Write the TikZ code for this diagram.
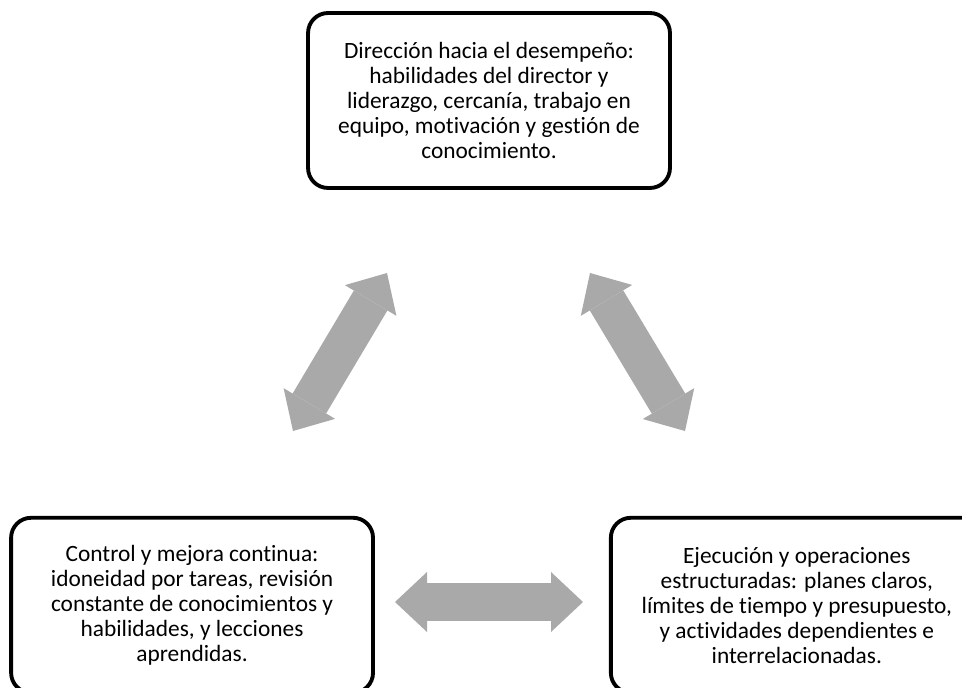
\documentclass[tikz,border=0pt]{standalone}
\usepackage{fontspec}
\setmainfont{Carlito}[Ligatures=NoCommon]
\usepackage{tikz}
\usetikzlibrary{positioning,arrows.meta}

\definecolor{arrowgray}{RGB}{169,169,169}

\tikzset{
  box/.style={draw, rectangle, rounded corners=0.4cm, line width=2.2pt,
    minimum width=7.24cm, minimum height=3.5cm, align=center,
    font=\fontsize{13.3}{14.2}\selectfont},
  bigarrow/.style={color=arrowgray, line width=0.78cm,
    {Triangle[length=0.64cm,width=1.2cm,line width=0pt]}-{Triangle[length=0.64cm,width=1.2cm,line width=0pt]}}
}

\begin{document}
\begin{tikzpicture}[x=0.02cm, y=-0.02cm, node distance=2cm]
\clip (0,0) rectangle (962,688);
\node (dir) [box] at (489,100.5) {Dirección hacia el desempeño:\\habilidades del director y\\liderazgo, cercanía, trabajo en\\equipo, motivación y gestión de\\conocimiento.};
\node (control) [box, below=6.52cm of dir, xshift=-5.94cm] {Control y mejora continua:\\idoneidad por tareas, revisión\\constante de conocimientos y\\habilidades, y lecciones\\aprendidas.};
\node (exec) [box, right=4.68cm of control, minimum width=7.44cm] {Ejecución y operaciones\\estructuradas: planes claros,\\límites de tiempo y presupuesto,\\y actividades dependientes e\\interrelacionadas.};

\coordinate (ctrlUp) at (293,431);
\coordinate (dirLeft) at (387,273);
\coordinate (dirRight) at (590,273);
\coordinate (execUp) at (685,431);
\coordinate (ctrlRight) at (395,602);
\coordinate (execLeft) at (583,602);

\draw [bigarrow] (ctrlUp) -- (dirLeft);
\draw [bigarrow] (dirRight) -- (execUp);
\draw [bigarrow] (ctrlRight) -- (execLeft);
\end{tikzpicture}
\end{document}
